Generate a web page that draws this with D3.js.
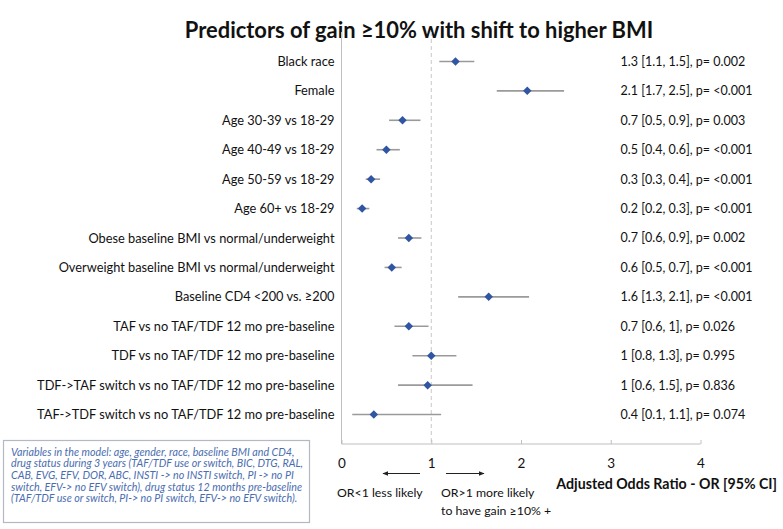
<!DOCTYPE html>
<html><head><meta charset="utf-8">
<script src="https://cdn.jsdelivr.net/npm/d3@7"></script>
<style>body{margin:0;background:#fff}svg{display:block}text{font-family:Lato,"Open Sans",sans-serif}</style>
</head><body>
<script>
const categories = ["Black race","Female","Age 30-39 vs 18-29","Age 40-49 vs 18-29","Age 50-59 vs 18-29","Age 60+ vs 18-29","Obese baseline BMI vs normal/underweight","Overweight baseline BMI vs normal/underweight","Baseline CD4 <200 vs. \u2265200","TAF vs no TAF/TDF 12 mo pre-baseline","TDF vs no TAF/TDF 12 mo pre-baseline","TDF->TAF switch vs no TAF/TDF 12 mo pre-baseline","TAF->TDF switch vs no TAF/TDF 12 mo pre-baseline"];
const oddsRatio = [1.27,2.07,0.68,0.50,0.33,0.23,0.75,0.56,1.64,0.75,1.00,0.96,0.36];
const ciLow =  [1.09,1.73,0.53,0.39,0.27,0.17,0.63,0.48,1.30,0.59,0.79,0.63,0.12];
const ciHigh = [1.48,2.48,0.88,0.65,0.43,0.31,0.89,0.67,2.09,0.97,1.28,1.46,1.11];
const resultLabels = ["1.3 [1.1, 1.5], p= 0.002","2.1 [1.7, 2.5], p= <0.001","0.7 [0.5, 0.9], p= 0.003","0.5 [0.4, 0.6], p= <0.001","0.3 [0.3, 0.4], p= <0.001","0.2 [0.2, 0.3], p= <0.001","0.7 [0.6, 0.9], p= 0.002","0.6 [0.5, 0.7], p= <0.001","1.6 [1.3, 2.1], p= <0.001","0.7 [0.6, 1], p= 0.026","1 [0.8, 1.3], p= 0.995","1 [0.6, 1.5], p= 0.836","0.4 [0.1, 1.1], p= 0.074"];
const xTicks = [0,1,2,3,4];
const noteLines = ["Variables in the model: age, gender, race, baseline BMI and CD4,","drug status during 3 years (TAF/TDF use or switch, BIC, DTG, RAL,","CAB, EVG, EFV, DOR, ABC, INSTI -> no INSTI switch, PI -> no PI","switch, EFV-> no EFV switch), drug status 12 months pre-baseline","(TAF/TDF use or switch, PI-> no PI switch, EFV-> no EFV switch)."];

const W=783,H=529;
const svg=d3.select("body").append("svg").attr("width",W).attr("height",H);
const x=d3.scaleLinear().domain([0,4]).range([341.5,700.5]);
const y=d3.scalePoint().domain(categories).range([32,444]).padding(1);
const data=categories.map((c,i)=>({c,or:oddsRatio[i],lo:ciLow[i],hi:ciHigh[i],lab:resultLabels[i]}));

svg.append("text").attr("x",419).attr("y",37.5).attr("text-anchor","middle")
  .attr("font-size",21.9).attr("font-weight","bold").attr("fill","#111")
  .text("Predictors of gain \u226510% with shift to higher BMI");

// reference line at 1
svg.append("line").attr("x1",x(1)).attr("x2",x(1)).attr("y1",32).attr("y2",444)
  .attr("stroke","#c8c8c8").attr("stroke-dasharray","4,3").attr("stroke-width",1);

// axes
const xAxis=d3.axisBottom(x).tickValues(xTicks).tickSize(-4).tickPadding(14).tickFormat(d3.format("d"));
const gx=svg.append("g").attr("transform","translate(0,444)").call(xAxis);
gx.select(".domain").attr("stroke","#bfbfbf").attr("d",`M${x(0)},0H${x(4)}`);
gx.selectAll(".tick line").attr("stroke","#bfbfbf");
gx.selectAll(".tick text").attr("font-size",13.5).attr("fill","#111").attr("font-family","Lato,sans-serif");

const yAxis=d3.axisLeft(y).tickSize(0).tickPadding(7);
const gy=svg.append("g").attr("transform",`translate(${x(0)},0)`).call(yAxis);
gy.select(".domain").attr("stroke","#bfbfbf").attr("d","M0,32V444");
gy.selectAll(".tick text").attr("font-size",12.8).attr("fill","#111").attr("font-family","Lato,sans-serif");

// CI lines
svg.append("g").selectAll("line").data(data).join("line")
  .attr("x1",d=>x(d.lo)).attr("x2",d=>x(d.hi)).attr("y1",d=>y(d.c)).attr("y2",d=>y(d.c))
  .attr("stroke","#9a9a9a").attr("stroke-width",1.6);
// diamonds
svg.append("g").selectAll("path").data(data).join("path")
  .attr("transform",d=>`translate(${x(d.or)},${y(d.c)})`)
  .attr("d",d3.symbol(d3.symbolDiamond2,46))
  .attr("fill","#2f55a3");

// right labels
svg.append("g").selectAll("text").data(data).join("text")
  .attr("x",620.5).attr("y",d=>y(d.c)).attr("dy","0.35em")
  .attr("font-size",12.5).attr("fill","#111").text(d=>d.lab);

// axis title
svg.append("text").attr("x",777).attr("y",489).attr("text-anchor","end")
  .attr("font-size",14.2).attr("font-weight","bold").attr("fill","#111")
  .text("Adjusted Odds Ratio - OR [95% CI]");

// arrows
const defs=svg.append("defs");
defs.append("marker").attr("id","ah").attr("viewBox","0 0 10 10").attr("refX",9).attr("refY",5)
  .attr("markerWidth",6).attr("markerHeight",6).attr("orient","auto")
  .append("path").attr("d","M0,1L10,5L0,9z").attr("fill","#222");
svg.append("line").attr("x1",420).attr("x2",383).attr("y1",473.5).attr("y2",473.5)
  .attr("stroke","#222").attr("stroke-width",1).attr("marker-end","url(#ah)");
svg.append("line").attr("x1",446).attr("x2",484).attr("y1",473.5).attr("y2",473.5)
  .attr("stroke","#222").attr("stroke-width",1).attr("marker-end","url(#ah)");
svg.append("text").attr("x",337).attr("y",497).attr("font-size",12.3).attr("fill","#111").text("OR<1 less likely");
svg.append("text").attr("x",441).attr("y",497).attr("font-size",12.3).attr("fill","#111").text("OR>1 more likely");
svg.append("text").attr("x",441).attr("y",514.5).attr("font-size",12.3).attr("fill","#111").text("to have gain \u226510% +");

// note box
svg.append("rect").attr("x",3.5).attr("y",440.5).attr("width",306).attr("height",82)
  .attr("fill","#fff").attr("stroke","#b4b8c4").attr("stroke-width",1.2);
svg.append("g").selectAll("text").data(noteLines).join("text")
  .attr("x",11).attr("y",(d,i)=>455.5+i*11.7).attr("font-size",10.7)
  .attr("font-style","italic").attr("fill","#4a6db0").text(d=>d);
</script>
</body></html>
